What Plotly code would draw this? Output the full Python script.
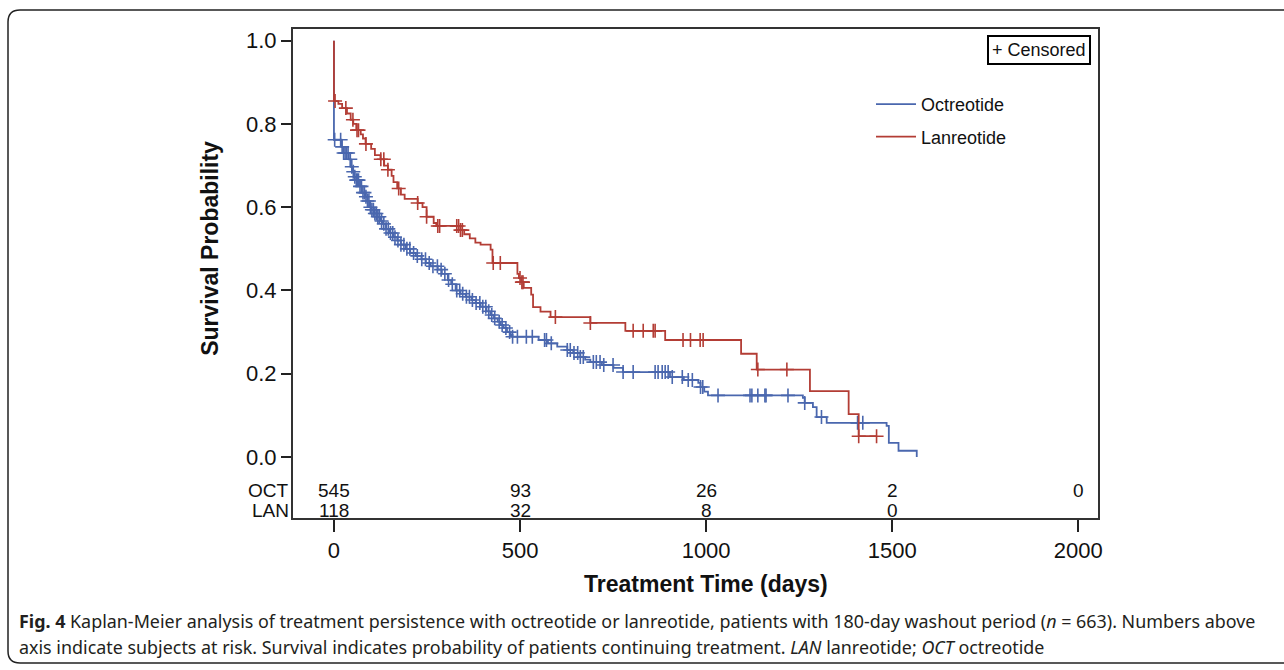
import plotly.graph_objects as go

W, H = 1284, 670
L, R, T, B = 293, 1098, 29, 518  # plot area (pixels)


def px_x(px):
    return (px - L) / (R - L)


def px_y(py):
    return (B - py) / (B - T)


# ---------------- data ----------------
oct_name = "Octreotide"
oct_times = [0, 20, 26, 40, 45, 50, 55, 60, 70, 75, 85, 90, 95, 100, 108, 115, 125, 130,
             140, 150, 160, 170, 180, 193, 205, 220, 235, 247, 260, 279, 290, 306, 315,
             327, 340, 354, 370, 381, 394, 410, 421, 430, 440, 448, 456, 465, 475, 480,
             550, 575, 600, 627, 643, 662, 675, 689, 720, 751, 777, 903, 940, 979, 985,
             995, 1005, 1260, 1265, 1287, 1297, 1324, 1485, 1491, 1517, 1566]
oct_surv = [0.762, 0.745, 0.730, 0.715, 0.697, 0.685, 0.673, 0.665, 0.650, 0.635, 0.625,
            0.615, 0.600, 0.594, 0.585, 0.577, 0.567, 0.560, 0.548, 0.538, 0.528, 0.520,
            0.510, 0.500, 0.490, 0.483, 0.475, 0.466, 0.458, 0.450, 0.440, 0.425, 0.415,
            0.400, 0.392, 0.385, 0.377, 0.370, 0.361, 0.350, 0.341, 0.333, 0.325, 0.317,
            0.310, 0.300, 0.293, 0.289, 0.281, 0.273, 0.265, 0.257, 0.250, 0.240, 0.234,
            0.228, 0.221, 0.214, 0.204, 0.192, 0.185, 0.178, 0.168, 0.157, 0.148, 0.142,
            0.130, 0.120, 0.096, 0.082, 0.075, 0.034, 0.015, 0.000]
oct_censor = [2, 18, 22, 26, 30, 34, 38, 44, 48, 52, 56, 60, 63, 66, 70, 74, 78, 82, 86, 90,
              94, 98, 102, 106, 110, 114, 118, 122, 128, 134, 140, 146, 152, 158, 164, 172,
              180, 188, 196, 204, 214, 224, 236, 246, 256, 266, 278, 288, 298, 308, 318,
              330, 338, 346, 356, 364, 372, 382, 392, 400, 408, 416, 424, 432, 444, 452,
              462, 472, 480, 493, 517, 533, 566, 571, 584, 627, 635, 645, 655, 662, 670,
              697, 705, 715, 725, 750, 777, 804, 863, 871, 882, 890, 898, 909, 936, 952,
              963, 985, 991, 1032, 1118, 1123, 1139, 1158, 1161, 1220, 1265, 1310, 1407,
              1421]

lan_name = "Lanreotide"
lan_times = [0, 12, 22, 35, 45, 52, 60, 72, 78, 85, 100, 110, 125, 135, 145, 155, 160, 170,
             180, 190, 225, 238, 249, 268, 275, 340, 350, 365, 380, 394, 421, 426, 493, 497,
             503, 510, 530, 535, 555, 582, 689, 783, 890, 1094, 1136, 1279, 1383, 1410]
lan_surv = [0.855, 0.848, 0.838, 0.825, 0.810, 0.800, 0.785, 0.775, 0.765, 0.752, 0.740,
            0.725, 0.715, 0.700, 0.690, 0.675, 0.660, 0.645, 0.630, 0.620, 0.610, 0.600,
            0.577, 0.562, 0.555, 0.545, 0.535, 0.525, 0.515, 0.510, 0.498, 0.466, 0.440,
            0.430, 0.420, 0.406, 0.390, 0.360, 0.349, 0.336, 0.322, 0.303, 0.281, 0.248,
            0.210, 0.158, 0.103, 0.050]
lan_censor = [3, 32, 51, 62, 66, 86, 126, 134, 145, 174, 225, 249, 279, 284, 330, 335, 340,
              345, 428, 447, 500, 505, 508, 595, 689, 804, 831, 858, 863, 938, 958, 984,
              992, 1139, 1217, 1410, 1458]

risk_times = [0, 500, 1000, 1500, 2000]
oct_risk = ["545", "93", "26", "2", "0"]
lan_risk = ["118", "32", "8", "0", ""]

x_ticks = [0, 500, 1000, 1500, 2000]
y_ticks = [0.0, 0.2, 0.4, 0.6, 0.8, 1.0]
y_tick_text = ["0.0", "0.2", "0.4", "0.6", "0.8", "1.0"]

BLUE = "#4a67ae"
RED = "#b33d35"
FONT = "Liberation Sans, Arial, sans-serif"


def surv_at(times, survs, t):
    s = 1.0
    for ti, si in zip(times, survs):
        if ti <= t:
            s = si
        else:
            break
    return s


def step_xy(times, survs, end_t):
    xs = [0] + list(times) + [end_t]
    ys = [1.0] + list(survs) + [survs[-1]]
    return xs, ys


fig = go.Figure()

for name, times, survs, cens, color in [
    (oct_name, oct_times, oct_surv, oct_censor, BLUE),
    (lan_name, lan_times, lan_surv, lan_censor, RED),
]:
    end_t = max(times[-1], max(cens))
    xs, ys = step_xy(times, survs, end_t)
    fig.add_trace(go.Scatter(
        x=xs, y=ys, mode="lines", name=name, line_shape="hv",
        line=dict(color=color, width=1.8), legendgroup=name,
        hoverinfo="skip"))
    fig.add_trace(go.Scatter(
        x=cens, y=[surv_at(times, survs, t) for t in cens], mode="markers",
        showlegend=False, legendgroup=name,
        marker=dict(symbol="cross-thin", size=10,
                    line=dict(color=color, width=1.6))))

annotations = []
RISK_FONT = dict(family=FONT, size=19, color="#111")
# at-risk table
for t, o, l in zip(risk_times, oct_risk, lan_risk):
    annotations.append(dict(x=t, y=-0.0793, xref="x", yref="y", text=o, showarrow=False,
                            xanchor="center", yanchor="middle", font=RISK_FONT))
    if l:
        annotations.append(dict(x=t, y=-0.1286, xref="x", yref="y", text=l, showarrow=False,
                                xanchor="center", yanchor="middle", font=RISK_FONT))
annotations.append(dict(x=px_x(291), y=-0.0793, xref="paper", yref="y", text="OCT",
                        xanchor="right", yanchor="middle", showarrow=False, font=RISK_FONT))
annotations.append(dict(x=px_x(291), y=-0.1286, xref="paper", yref="y", text="LAN",
                        xanchor="right", yanchor="middle", showarrow=False, font=RISK_FONT))

# axis titles
annotations.append(dict(x=1000, y=px_y(584), xref="x", yref="paper",
                        xanchor="center", yanchor="middle",
                        text="<b>Treatment Time (days)</b>", showarrow=False,
                        font=dict(family=FONT, size=23, color="#111")))
annotations.append(dict(x=px_x(210), y=0.5, xref="paper", yref="y",
                        xanchor="center", yanchor="middle",
                        text="<b>Survival Probability</b>", showarrow=False, textangle=-90,
                        font=dict(family=FONT, size=23, color="#111")))

# censored box
annotations.append(dict(x=px_x(1091), y=px_y(35), xref="paper", yref="paper",
                        text="+ Censored", showarrow=False, xanchor="right", yanchor="top",
                        bordercolor="#000", borderwidth=2, borderpad=3, bgcolor="white",
                        font=dict(family=FONT, size=18, color="#111")))

# caption
CAP = "Noto Sans, Open Sans, sans-serif"
annotations.append(dict(x=px_x(17), y=px_y(621), xref="paper", yref="paper",
                        xanchor="left", yanchor="middle", showarrow=False, align="left",
                        text="<b>Fig. 4</b> Kaplan-Meier analysis of treatment persistence with "
                             "octreotide or lanreotide, patients with 180-day washout period "
                             "(<i>n</i> = 663). Numbers above",
                        font=dict(family=CAP, size=17.9, color="#231f20")))
annotations.append(dict(x=px_x(17), y=px_y(647), xref="paper", yref="paper",
                        xanchor="left", yanchor="middle", showarrow=False, align="left",
                        text="axis indicate subjects at risk. Survival indicates probability of "
                             "patients continuing treatment. <i>LAN</i> lanreotide; "
                             "<i>OCT</i> octreotide",
                        font=dict(family=CAP, size=17.9, color="#231f20")))

# outer rounded border of the figure panel
xl, xr = px_x(8), px_x(1300)
yt, yb = px_y(10), px_y(663)
rx, ry = 12 / (R - L), 12 / (B - T)
border_path = (f"M {xr},{yt} L {xl + rx},{yt} Q {xl},{yt} {xl},{yt - ry} "
               f"L {xl},{yb + ry} Q {xl},{yb} {xl + rx},{yb} L {xr},{yb}")

fig.update_layout(
    width=W, height=H,
    margin=dict(l=L, r=W - R, t=T, b=H - B, pad=0),
    paper_bgcolor="white", plot_bgcolor="white",
    font=dict(family=FONT, color="#111"),
    showlegend=True,
    legend=dict(x=px_x(871), y=px_y(86), xanchor="left", yanchor="top",
                font=dict(family=FONT, size=18, color="#111"), bgcolor="rgba(0,0,0,0)",
                tracegroupgap=6, itemwidth=40),
    annotations=annotations,
    shapes=[dict(type="path", xref="paper", yref="paper", path=border_path,
                 line=dict(color="#222", width=1.5))],
    xaxis=dict(range=[-110, 2053], tickvals=x_ticks, ticks="outside", ticklen=12,
               tickwidth=1.5, tickcolor="#222", showline=True, linecolor="#333",
               linewidth=2, mirror=True, showgrid=False, zeroline=False,
               tickfont=dict(family=FONT, size=22, color="#111")),
    yaxis=dict(range=[-0.1465, 1.028], tickvals=y_ticks, ticktext=y_tick_text,
               ticks="outside", ticklen=10, tickwidth=1.5, tickcolor="#222",
               showline=True, linecolor="#333", linewidth=2, mirror=True,
               showgrid=False, zeroline=False,
               tickfont=dict(family=FONT, size=22, color="#111")),
)

fig.write_html("out.html", config={"displayModeBar": False},
               post_script="document.body.style.margin='0px';"
                           "document.body.style.overflow='hidden';")
